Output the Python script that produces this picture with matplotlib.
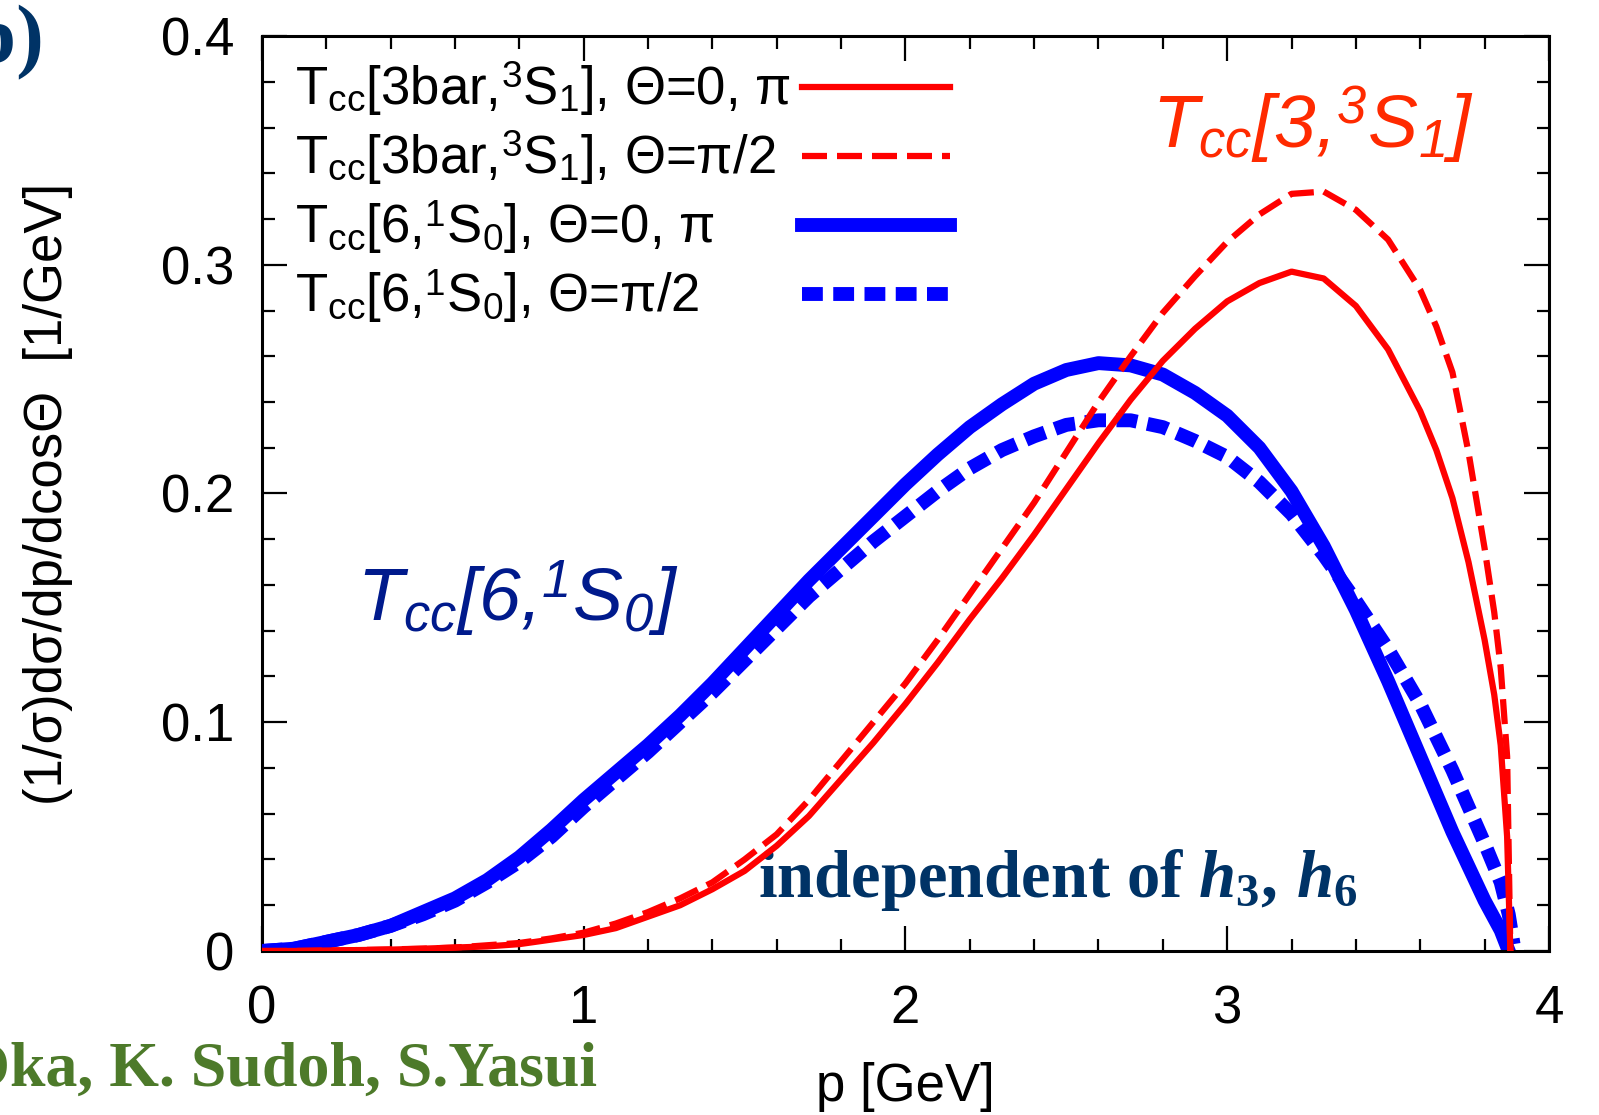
import matplotlib
matplotlib.use('Agg')
import matplotlib.pyplot as plt
from matplotlib.ticker import MultipleLocator

plt.rcParams['font.family'] = ['Liberation Sans', 'DejaVu Sans']
plt.rcParams['mathtext.fontset'] = 'custom'
plt.rcParams['mathtext.rm'] = 'Liberation Serif:bold'
plt.rcParams['mathtext.it'] = 'Liberation Serif:italic:bold'
plt.rcParams['mathtext.bf'] = 'Liberation Serif:bold'

# momentum grid [GeV] and distributions
p_red = [0, 0.1, 0.2, 0.3, 0.4, 0.5, 0.6, 0.7, 0.8, 0.9, 1.0, 1.1, 1.2, 1.3, 1.4, 1.5,
         1.6, 1.7, 1.8, 1.9, 2.0, 2.1, 2.2, 2.3, 2.4, 2.5, 2.6, 2.7, 2.8, 2.9, 3.0, 3.1,
         3.2, 3.3, 3.4, 3.5, 3.6, 3.65, 3.7, 3.75, 3.8, 3.83, 3.85, 3.87, 3.88]
r_theta0 = [0, 0, 0.0002, 0.0004, 0.0006, 0.001, 0.0015, 0.002, 0.003, 0.005, 0.007,
            0.010, 0.015, 0.020, 0.027, 0.035, 0.046, 0.059, 0.075, 0.091, 0.108, 0.126,
            0.145, 0.163, 0.182, 0.202, 0.222, 0.241, 0.258, 0.272, 0.284, 0.292, 0.297,
            0.294, 0.282, 0.263, 0.236, 0.219, 0.198, 0.170, 0.136, 0.112, 0.090, 0.050, 0.0]
r_theta90 = [0, 0, 0.0002, 0.0004, 0.0007, 0.001, 0.0015, 0.0025, 0.0035, 0.0055, 0.008,
             0.012, 0.017, 0.023, 0.030, 0.040, 0.051, 0.066, 0.083, 0.100, 0.117, 0.136,
             0.156, 0.176, 0.196, 0.218, 0.240, 0.260, 0.279, 0.295, 0.310, 0.322, 0.331,
             0.332, 0.324, 0.311, 0.289, 0.273, 0.253, 0.218, 0.176, 0.148, 0.124, 0.085, 0.0]

p_blue = [0, 0.1, 0.2, 0.3, 0.4, 0.5, 0.6, 0.7, 0.8, 0.9, 1.0, 1.1, 1.2, 1.3, 1.4, 1.5,
          1.6, 1.7, 1.8, 1.9, 2.0, 2.1, 2.2, 2.3, 2.4, 2.5, 2.6, 2.7, 2.8, 2.9, 3.0, 3.1,
          3.2, 3.3, 3.4, 3.5, 3.6, 3.7, 3.8, 3.85, 3.875]
b_theta0 = [0, 0.001, 0.004, 0.007, 0.011, 0.017, 0.023, 0.031, 0.041, 0.053, 0.066,
            0.078, 0.090, 0.103, 0.117, 0.132, 0.147, 0.162, 0.176, 0.190, 0.204, 0.217,
            0.229, 0.239, 0.248, 0.254, 0.257, 0.256, 0.252, 0.244, 0.234, 0.220, 0.201,
            0.177, 0.149, 0.118, 0.085, 0.052, 0.022, 0.009, 0.0]
p_blue_dash = [0, 0.1, 0.2, 0.3, 0.4, 0.5, 0.6, 0.7, 0.8, 0.9, 1.0, 1.1, 1.2, 1.3, 1.4, 1.5,
               1.6, 1.7, 1.8, 1.9, 2.0, 2.1, 2.2, 2.3, 2.4, 2.5, 2.6, 2.7, 2.8, 2.9, 3.0, 3.1,
               3.2, 3.3, 3.4, 3.5, 3.6, 3.7, 3.8, 3.85, 3.875, 3.89]
b_theta90 = [0, 0.001, 0.004, 0.007, 0.011, 0.016, 0.022, 0.030, 0.039, 0.050, 0.063,
             0.075, 0.087, 0.100, 0.113, 0.127, 0.141, 0.155, 0.167, 0.179, 0.190, 0.201,
             0.211, 0.219, 0.225, 0.230, 0.232, 0.232, 0.229, 0.223, 0.216, 0.205, 0.191,
             0.173, 0.153, 0.132, 0.108, 0.079, 0.047, 0.030, 0.016, 0.003]

labels = [r'T$_{\mathregular{cc}}$[3bar,$^{\mathregular{3}}$S$_{\mathregular{1}}$], Θ=0, π',
          r'T$_{\mathregular{cc}}$[3bar,$^{\mathregular{3}}$S$_{\mathregular{1}}$], Θ=π/2',
          r'T$_{\mathregular{cc}}$[6,$^{\mathregular{1}}$S$_{\mathregular{0}}$], Θ=0, π',
          r'T$_{\mathregular{cc}}$[6,$^{\mathregular{1}}$S$_{\mathregular{0}}$], Θ=π/2']
x_ticks = [0, 1, 2, 3, 4]
x_ticklabels = ['0', '1', '2', '3', '4']
y_ticks = [0, 0.1, 0.2, 0.3, 0.4]
y_ticklabels = ['0', '0.1', '0.2', '0.3', '0.4']

RED = '#ff0000'
BLUE = '#0000ff'
NAVY = '#003366'
RED_DASH = (4, 1.6)
BLUE_DASH = (1.5, 0.75)

fig = plt.figure(figsize=(15.99, 11.15), dpi=100)
ax = fig.add_axes([0.1638, 0.1471, 0.8049, 0.8206])

ax.plot(p_blue, b_theta0, color=BLUE, lw=10, zorder=2)
ax.plot(p_blue_dash, b_theta90, color=BLUE, lw=10, dashes=BLUE_DASH, zorder=3)
ax.plot(p_red, r_theta0, color=RED, lw=4.5, zorder=4)
ax.plot(p_red, r_theta90, color=RED, lw=4.5, dashes=RED_DASH, zorder=5)

# gnuplot-style key: text left, sample line on the right
styles = [(RED, 4.5, None), (RED, 4.5, RED_DASH), (BLUE, 10, None), (BLUE, 10, BLUE_DASH)]
for i, (lab, (col, lw, dash)) in enumerate(zip(labels, styles)):
    y = 0.944 - i * 0.0754
    ax.text(0.026, y - 0.0194, lab, transform=ax.transAxes, fontsize=38,
            ha='left', va='baseline')
    line, = ax.plot([0.42, 0.535], [y, y], transform=ax.transAxes, color=col, lw=lw)
    if dash:
        line.set_dashes(dash)

ax.text(0.6915, 0.8776, r'T$_{\mathregular{cc}}$[3,$^{\mathregular{3}}$S$_{\mathregular{1}}$]',
        transform=ax.transAxes, fontsize=54, style='italic', color='#ff2a00', va='baseline')
ax.text(0.0738, 0.3596, r'T$_{\mathregular{cc}}$[6,$^{\mathregular{1}}$S$_{\mathregular{0}}$]',
        transform=ax.transAxes, fontsize=54, style='italic', color='#001a8c', va='baseline')
ax.text(0.3854, 0.059, r'independent of $h_{\mathregular{3}},\,h_{\mathregular{6}}$',
        transform=ax.transAxes, fontsize=48, family='Liberation Serif', weight='bold',
        color=NAVY, va='baseline')

ax.set_xlim(0, 4)
ax.set_ylim(0, 0.4)
ax.set_xticks(x_ticks, labels=x_ticklabels)
ax.set_yticks(y_ticks, labels=y_ticklabels)
ax.xaxis.set_minor_locator(MultipleLocator(0.2))
ax.yaxis.set_minor_locator(MultipleLocator(0.02))
ax.tick_params(which='both', direction='in', top=True, right=True, width=1.6)
ax.tick_params(which='major', length=18, labelsize=38)
ax.tick_params(axis='x', which='major', pad=24)
ax.tick_params(axis='y', which='major', pad=20)
ax.tick_params(which='minor', length=9)
for s in ax.spines.values():
    s.set_linewidth(2.2)

ax.set_xlabel('p [GeV]', fontsize=38)
ax.set_ylabel('(1/σ)dσ/dp/dcosΘ  [1/GeV]', fontsize=38)
ax.xaxis.set_label_coords(0.5, -0.121)
ax.yaxis.set_label_coords(-0.147, 0.5)

fig.text(44 / 1599, 1 - 62 / 1115, '(b)', fontsize=60, family='Liberation Serif',
         weight='bold', color=NAVY, ha='right', va='baseline')
fig.text(597 / 1599, 29 / 1115, 'M. Oka, K. Sudoh, S.Yasui', fontsize=46,
         family='Liberation Serif', weight='bold', color='#4d7a2a', ha='right', va='baseline')

fig.savefig('out.png', dpi=100)
